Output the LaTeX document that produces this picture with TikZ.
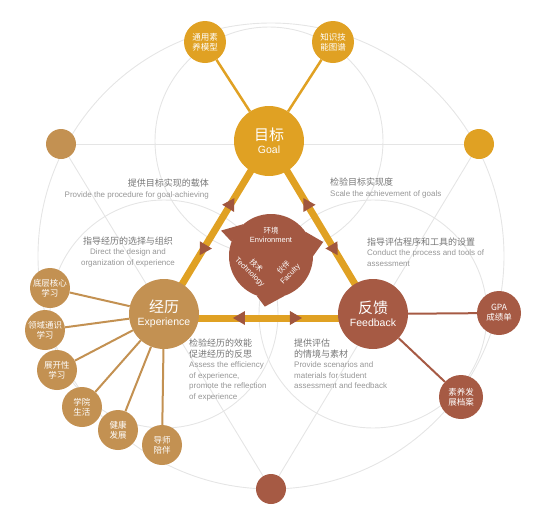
\documentclass[tikz,border=0pt]{standalone}
\usepackage{fontspec}
\setmainfont{Liberation Sans}
\newfontfamily\cjk{Noto Sans CJK SC}
\usetikzlibrary{arrows.meta,decorations.markings,backgrounds}

\definecolor{goldc}{RGB}{224,161,35}
\definecolor{tanc}{RGB}{195,145,82}
\definecolor{brownc}{RGB}{166,90,68}
\definecolor{hubc}{RGB}{163,88,66}
\definecolor{arrc}{RGB}{160,86,62}
\definecolor{zhgray}{RGB}{118,118,118}
\definecolor{engray}{RGB}{150,150,150}
\definecolor{bggray}{RGB}{229,229,229}

\newcommand{\zh}[1]{{\cjk\fontsize{9}{11}\selectfont\color{zhgray}#1}}

\begin{document}
\begin{tikzpicture}[x=1pt,y=-1pt,
    mainnode/.style={circle,minimum size=70pt,inner sep=0pt,text=white,align=center},
    subnode/.style={circle,minimum size=42pt,inner sep=0pt,text=white,align=center,font=\cjk\fontsize{8.5}{10}\selectfont},
    sidedot/.style={circle,minimum size=30pt,inner sep=0pt},
    guide/.style={draw=bggray,line width=0.9pt},
    cyclebar/.style={draw=goldc,line width=7pt,postaction={decorate},decoration={markings,
        mark=at position 0.33 with {\arrowreversed{Triangle[length=12pt,width=14pt,line width=0pt,color=arrc]}},
        mark=at position 0.66 with {\arrow{Triangle[length=12pt,width=14pt,line width=0pt,color=arrc]}}}},
    note/.style={inner sep=0pt,text=engray,font=\fontsize{8}{10.5}\selectfont}]
    \useasboundingbox (0,0) rectangle (550,520);
    % goal, experience, feedback
    \node[mainnode,fill=goldc] (goal) at (269,141) {{\cjk\fontsize{15}{17}\selectfont 目标}\\[1pt]{\fontsize{10.5}{12}\selectfont Goal}};
    \node[mainnode,fill=tanc] (exp) at (164,314) {{\cjk\fontsize{15}{17}\selectfont 经历}\\[1pt]{\fontsize{10.5}{12}\selectfont Experience}};
    \node[mainnode,fill=brownc] (fb) at (373,314) {{\cjk\fontsize{15}{17}\selectfont 反馈}\\[1pt]{\fontsize{10.5}{12}\selectfont Feedback}};
    % small circles round the goal
    \node[subnode,fill=goldc] (gm1) at (205,42) {通用素\\养模型};
    \node[subnode,fill=goldc] (gm2) at (333,42) {知识技\\能图谱};
    % small circles round the experience
    \node[subnode,fill=tanc,minimum size=40pt] (ex1) at (50,288) {底层核心\\学习};
    \node[subnode,fill=tanc,minimum size=40pt] (ex2) at (45,330) {领域通识\\学习};
    \node[subnode,fill=tanc,minimum size=40pt] (ex3) at (57,370) {展开性\\学习};
    \node[subnode,fill=tanc,minimum size=40pt] (ex4) at (82,407) {学院\\生活};
    \node[subnode,fill=tanc,minimum size=40pt] (ex5) at (118,430) {健康\\发展};
    \node[subnode,fill=tanc,minimum size=40pt] (ex6) at (162,445) {导师\\陪伴};
    % small circles round the feedback
    \node[subnode,fill=brownc,minimum size=44pt] (fs1) at (499,313) {GPA\\成绩单};
    \node[subnode,fill=brownc,minimum size=44pt] (fs2) at (461,397) {素养发\\展档案};
    % plain dots on the outer ring
    \node[sidedot,fill=tanc] (dl) at (61,144) {};
    \node[sidedot,fill=goldc] (dr) at (479,144) {};
    \node[sidedot,fill=brownc] (db) at (271,489) {};
    % hub in the middle
    \node[circle,fill=hubc,minimum size=84pt,inner sep=0pt] (hub) at (271,256) {};
    \fill[hubc] (hub.131) -- ([shift={(153:56pt)}]hub.center) -- (hub.160) -- cycle;
    \fill[hubc] (hub.0) -- ([shift={(15:54pt)}]hub.center) -- (hub.35) -- cycle;
    \fill[hubc] (hub.250) -- ([shift={(263:51pt)}]hub.center) -- (hub.288) -- cycle;
    \node[text=white,align=center,font=\fontsize{7.5}{9}\selectfont] (env) at (271,235) {{\cjk 环境}\\Environment};
    \node[text=white,align=center,font=\fontsize{7.5}{9}\selectfont,rotate=-44] (tech) at (253,269) {{\cjk 技术}\\Technology};
    \node[text=white,align=center,font=\fontsize{7.5}{9}\selectfont,rotate=45] (fac) at (287,271) {{\cjk 伙伴}\\Faculty};
    % guide lines and the main cycle behind the circles
    \begin{pgfonlayer}{background}
        \draw[guide] (hub.center) circle[radius=233pt];
        \draw[guide] (goal.center) circle[radius=114pt];
        \draw[guide] (exp.center) circle[radius=114pt];
        \draw[guide] (fb.center) circle[radius=114pt];
        \draw[guide] (dl) -- (dr);
        \draw[guide] (dr) -- (db);
        \draw[guide] (db) -- (dl);
        \draw[cyclebar] (goal.center) -- (exp.center);
        \draw[cyclebar] (goal.center) -- (fb.center);
        \draw[cyclebar] ([yshift=-4pt]exp.center) -- ([yshift=-4pt]fb.center);
    \end{pgfonlayer}
    % spokes
    \draw[goldc,line width=2.5pt] (goal) -- (gm1);
    \draw[goldc,line width=2.5pt] (goal) -- (gm2);
    \draw[tanc,line width=2pt] (exp) -- (ex1);
    \draw[tanc,line width=2pt] (exp) -- (ex2);
    \draw[tanc,line width=2pt] (exp) -- (ex3);
    \draw[tanc,line width=2pt] (exp) -- (ex4);
    \draw[tanc,line width=2pt] (exp) -- (ex5);
    \draw[tanc,line width=2pt] (exp) -- (ex6);
    \draw[brownc,line width=2pt] (fb) -- (fs1);
    \draw[brownc,line width=2pt] (fb) -- (fs2);
    % texts on the sides of the cycle
    \node[note,anchor=east,align=right] (t1) at (209,189) {\zh{提供目标实现的载体}\\Provide the procedure for goal-achieving};
    \node[note,align=center] (t2) at (128,252) {\zh{指导经历的选择与组织}\\Direct the design and\\organization of experience};
    \node[note,anchor=west,align=left] (t3) at (330,188) {\zh{检验目标实现度}\\Scale the achievement of goals};
    \node[note,anchor=west,align=left] (t4) at (367,252) {\zh{指导评估程序和工具的设置}\\Conduct the process and tools of\\assessment};
    \node[note,anchor=north west,align=left] (t5) at (189,339) {\zh{检验经历的效能}\\\zh{促进经历的反思}\\Assess the efficiency\\of experience,\\promote the reflection\\of experience};
    \node[note,anchor=north west,align=left] (t6) at (294,339) {\zh{提供评估}\\\zh{的情境与素材}\\Provide scenarios and\\materials for student\\assessment and feedback};
\end{tikzpicture}
\end{document}
